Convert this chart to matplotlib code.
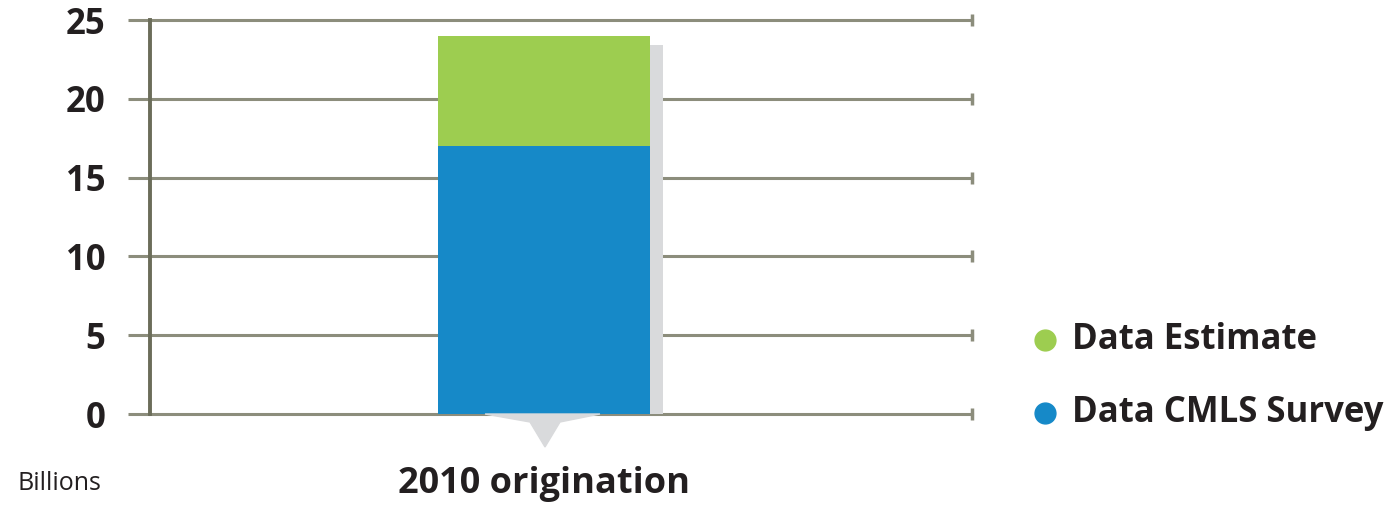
import matplotlib.pyplot as plt
from matplotlib.lines import Line2D
from matplotlib.patches import Polygon

plt.rcParams['font.family'] = ['Open Sans', 'DejaVu Sans']

categories = ['2010 origination']
cmls_survey = [17]
estimate = [7]
y_ticks = [0, 5, 10, 15, 20, 25]
series_names = ['Data Estimate', 'Data CMLS Survey']

blue = '#1689c8'
green = '#9dcd50'
grid_col = '#8c8d7c'
spine_col = '#6b6d5a'
text_col = '#231f20'

fig = plt.figure(figsize=(14, 5.05), dpi=100)
ax = fig.add_axes([150 / 1400, 91 / 505, 822 / 1400, 394 / 505])

x = [0]
width = 0.258
totals = [a + b for a, b in zip(cmls_survey, estimate)]

# shadow behind the bar
ax.bar([xi + 0.016 for xi in x], [t - 0.6 for t in totals], width, color='#d9dadc', zorder=2)
ax.bar(x, cmls_survey, width, color=blue, zorder=3)
ax.bar(x, estimate, width, bottom=cmls_survey, color=green, zorder=3)

ax.set_xlim(-0.479, 0.521)
ax.set_ylim(0, 25)
ax.set_yticks(y_ticks)
ax.set_yticklabels([str(t) for t in y_ticks], fontsize=25, fontweight='bold', color=text_col)
ax.set_xticks([])

for t in y_ticks:
    ax.axhline(t, color=grid_col, lw=2.2, zorder=1, clip_on=False)
    ax.plot([0.521], [t], marker='|', ms=9, mew=2.5, color=grid_col, clip_on=False, zorder=1)

ax.tick_params(axis='y', length=16, width=2.2, color=grid_col, direction='out', pad=16)
for side in ['top', 'right', 'bottom']:
    ax.spines[side].set_visible(False)
ax.spines['left'].set_color(spine_col)
ax.spines['left'].set_linewidth(2.8)

# pointer under the bar
ptr = Polygon([(485 / 1400, 91 / 505), (600 / 1400, 91 / 505), (560 / 1400, 83 / 505),
               (545 / 1400, 58 / 505), (530 / 1400, 83 / 505)],
              closed=True, transform=fig.transFigure, color='#d9dadc', zorder=0)
fig.patches.append(ptr)

fig.text(544 / 1400, 12 / 505, categories[0], ha='center', va='baseline',
         fontsize=26, fontweight='bold', color=text_col)
fig.text(17 / 1400, 15 / 505, 'Billions', ha='left', va='baseline',
         fontsize=18, color=text_col)

# legend
legend_cols = [green, blue]
legend_y = [340, 413]
for name, col, yp in zip(series_names, legend_cols, legend_y):
    fy = (505 - yp) / 505
    fig.add_artist(Line2D([1045 / 1400], [fy], ls='none', marker='o', ms=15,
                          color=col, transform=fig.transFigure))
    fig.text(1072 / 1400, fy, name, ha='left', va='center', fontsize=25,
             fontweight='bold', color=text_col)

fig.savefig('out.png', dpi=100)
